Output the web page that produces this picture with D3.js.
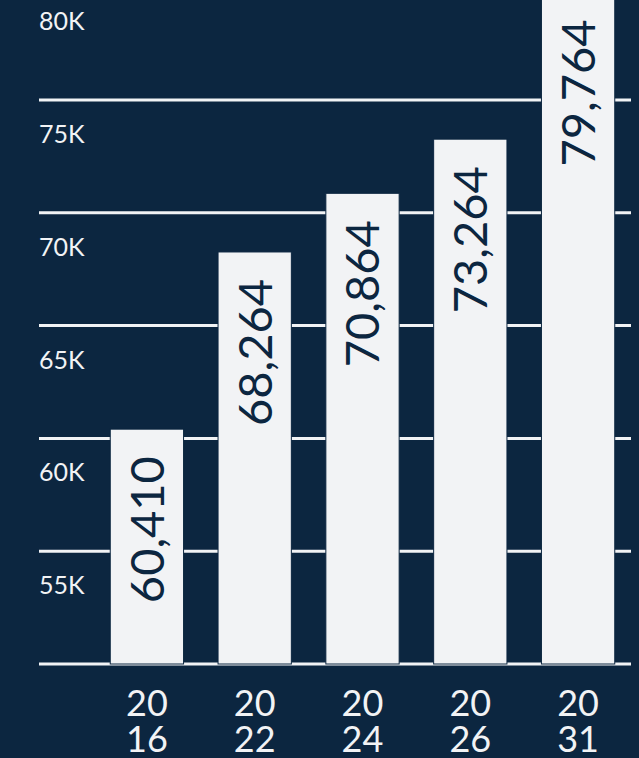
<!DOCTYPE html>
<html>
<head>
    <title>Values by year</title>
    <script src="https://d3js.org/d3.v7.min.js"></script>
    <style>
        body {
            margin: 0;
            padding: 0;
            background-color: #0c2640;
            font-family: Lato, Roboto, "Noto Sans", sans-serif;
        }
        svg { display: block; }
        .grid line {
            stroke: #f2f3f5;
            stroke-width: 3;
        }
        .tick-label {
            fill: #f2f3f5;
            font-size: 25px;
        }
        .bar {
            fill: #f2f3f5;
            stroke: #0c2640;
            stroke-width: 1;
        }
        .bar-label {
            fill: #0c2640;
            font-size: 47px;
        }
        .year-label {
            fill: #f2f3f5;
            font-size: 36px;
        }
    </style>
</head>
<body>
    <svg id="chart"></svg>
    <script>
        const years = ['2016', '2022', '2024', '2026', '2031'];
        const values = [60410, 68264, 70864, 73264, 79764];
        const tickValues = [50000, 55000, 60000, 65000, 70000, 75000, 80000];
        const tickLabels = ['', '55K', '60K', '65K', '70K', '75K', '80K'];

        const width = 639;
        const height = 758;

        const svg = d3.select('#chart')
            .attr('width', width)
            .attr('height', height);

        const x = d3.scaleBand()
            .domain(years)
            .range([93, 632])
            .paddingInner(0.32)
            .paddingOuter(0.16);

        // 50K sits on the baseline, each 5K step is ~113px
        const y = d3.scaleLinear()
            .domain([50000, 75000])
            .range([664, 100]);

        // gridlines
        svg.append('g')
            .attr('class', 'grid')
            .selectAll('line')
            .data(tickValues)
            .enter()
            .append('line')
            .attr('x1', 39)
            .attr('x2', 631)
            .attr('y1', d => y(d))
            .attr('y2', d => y(d));

        // tick labels sit just below their line
        svg.append('g')
            .selectAll('text')
            .data(tickValues)
            .enter()
            .append('text')
            .attr('class', 'tick-label')
            .attr('x', 39)
            .attr('y', d => y(d) + 43)
            .text((d, i) => tickLabels[i]);

        const data = years.map((yr, i) => ({ year: yr, value: values[i] }));

        svg.selectAll('.bar')
            .data(data)
            .enter()
            .append('rect')
            .attr('class', 'bar')
            .attr('x', d => x(d.year))
            .attr('width', x.bandwidth())
            .attr('y', d => y(d.value))
            .attr('height', d => y(50000) - y(d.value));

        // value labels, rotated, hanging from the top of each bar
        svg.selectAll('.bar-label')
            .data(data)
            .enter()
            .append('text')
            .attr('class', 'bar-label')
            .attr('transform', d => `translate(${x(d.year) + x.bandwidth() / 2},${y(d.value) + 27}) rotate(-90)`)
            .attr('text-anchor', 'end')
            .attr('dy', '0.36em')
            .text(d => d3.format(',')(d.value));

        // year labels, one text per line
        const cx = d => x(d.year) + x.bandwidth() / 2;

        svg.selectAll('.year-top')
            .data(data)
            .enter()
            .append('text')
            .attr('class', 'year-label')
            .attr('text-anchor', 'middle')
            .attr('x', cx)
            .attr('y', 716)
            .text(d => d.year.slice(0, 2));

        svg.selectAll('.year-bottom')
            .data(data)
            .enter()
            .append('text')
            .attr('class', 'year-label')
            .attr('text-anchor', 'middle')
            .attr('x', cx)
            .attr('y', 752)
            .text(d => d.year.slice(2));
    </script>
</body>
</html>
